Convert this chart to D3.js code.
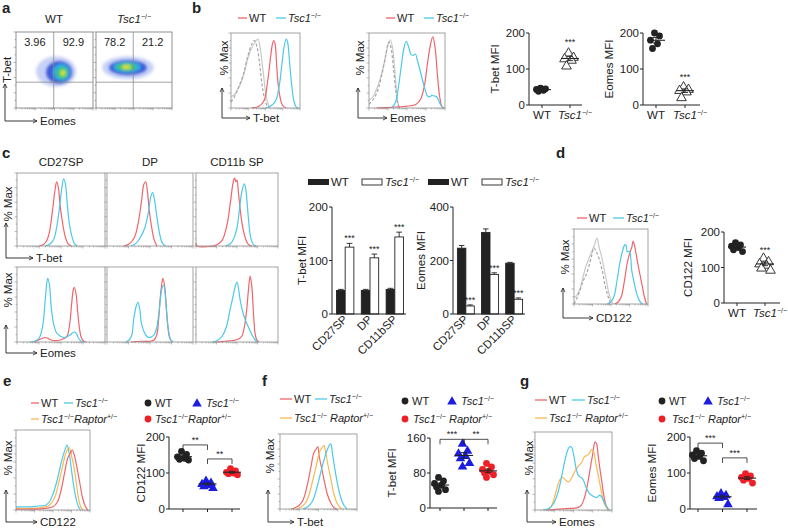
<!DOCTYPE html>
<html>
<head>
<meta charset="utf-8">
<script src="https://cdn.jsdelivr.net/npm/d3@7"></script>
<style>
  body { margin: 0; background: #fff; }
  svg { font-family: "Liberation Sans", Arial, sans-serif; }
</style>
</head>
<body>
<svg id="fig" width="788" height="528"></svg>
<script>
// ---------- data ----------
// a: flow plots, axes in arbitrary 0-100 units
const aGate = [49, 34];
const aQuadWT = ['3.96', '92.9'];
const aQuadTsc = ['78.2', '21.2'];
// density levels: [cx, cy, rx, ry], outermost first
const aBlobWT = [[52, 48, 26, 20], [56, 47, 17, 15], [59, 47, 11, 11], [60, 46, 7, 8], [61, 46, 3.5, 4]];
const aBlobTsc = [[42, 53, 34, 15], [42, 53, 25, 10], [41, 54, 18, 7], [40, 54, 13, 5], [40, 54, 6, 3]];
const densityColors = ['#8fa3ec', '#2f4fd8', '#2bbbe0', '#3cc860', '#e8e23a'];

// b: histograms, [x, %Max]
const bTbetIso = [[0,15],[5,18],[10,25],[15,35],[20,50],[25,68],[30,80],[35,88],[39,92],[43,75],[47,45],[50,22],[53,8],[56,0]];
const bTbetIsoDash = [[0,8],[5,15],[12,30],[18,45],[24,68],[30,85],[34,90],[38,80],[42,55],[46,25],[50,8],[54,0]];
const bTbetWT = [[30,0],[40,2],[48,10],[53,35],[57,65],[60,85],[62,90],[64,85],[66,60],[68,35],[71,15],[75,3],[80,0]];
const bTbetTsc = [[50,0],[58,3],[65,10],[70,30],[74,60],[77,82],[80,92],[82,88],[85,60],[88,30],[91,10],[94,2],[97,0]];
const bEomesIso = [[0,10],[5,15],[10,25],[15,40],[20,60],[24,80],[28,91],[31,80],[34,50],[36,25],[38,8],[40,0]];
const bEomesIsoDash = [[0,5],[6,12],[12,25],[17,45],[22,70],[26,88],[29,80],[32,55],[35,25],[38,5],[40,0]];
const bEomesWT = [[10,0],[30,1],[45,2],[55,3],[62,5],[68,12],[73,30],[77,60],[81,85],[84,95],[87,80],[90,45],[93,15],[96,2],[99,0]];
const bEomesTsc = [[30,0],[35,8],[39,30],[43,60],[46,80],[49,89],[52,82],[55,72],[58,70],[61,72],[64,62],[67,51],[71,35],[74,24],[77,16],[80,15],[83,17],[86,16],[89,15],[92,9],[95,3],[98,0]];
// b: MFI dot plots
const mfiGroups = ['WT', 'Tsc1'];
const bTbetMfiWT = [47, 45, 43, 41, 38];
const bTbetMfiTsc = [146, 134, 130, 126, 110];
const bEomesMfiWT = [200, 192, 180, 170, 157];
const bEomesMfiTsc = [52, 45, 42, 38, 22];

// c: histograms per subset
const cSubsets = ['CD27SP', 'DP', 'CD11b SP'];
const cTbetWT = [
  [[25,0],[30,2],[34,8],[37,20],[40,45],[43,75],[45,88],[47,80],[49,55],[52,30],[55,12],[58,3],[62,0]],
  [[20,0],[26,3],[32,12],[36,30],[40,60],[43,85],[45,88],[47,75],[49,50],[52,25],[55,8],[58,0]],
  [[0,4],[1,0],[20,0],[26,2],[32,8],[38,30],[42,60],[45,85],[47,93],[49,88],[50,90],[52,70],[55,40],[58,20],[61,8],[64,2],[68,0]]
];
const cTbetTsc = [
  [[32,0],[38,3],[42,10],[45,25],[48,50],[51,80],[53,92],[55,85],[57,60],[59,35],[62,15],[65,4],[68,0]],
  [[28,0],[34,4],[39,12],[44,25],[48,45],[51,68],[53,73],[55,65],[58,40],[61,18],[64,5],[68,0]],
  [[36,0],[42,3],[46,10],[50,25],[53,50],[56,75],[59,85],[61,75],[63,50],[65,25],[67,10],[70,2],[73,0]]
];
const cEomesWT = [
  [[20,0],[25,3],[29,5],[32,6],[35,5],[38,3],[42,2],[46,2],[50,3],[54,5],[57,8],[60,25],[62,50],[64,70],[65,73],[67,65],[69,40],[71,18],[73,6],[76,1],[79,0]],
  [[28,0],[40,1],[50,1],[55,3],[58,10],[60,30],[62,60],[64,80],[65,85],[67,75],[69,45],[71,18],[73,5],[76,0]],
  [[25,0],[35,1],[45,2],[52,4],[56,8],[59,20],[62,45],[64,70],[66,88],[68,75],[70,40],[72,12],[74,3],[77,0]]
];
const cEomesTsc = [
  [[15,0],[20,1],[25,5],[29,20],[32,55],[34,80],[35,85],[37,75],[39,45],[42,22],[45,12],[49,8],[53,6],[57,7],[61,10],[64,13],[66,13],[68,10],[70,5],[73,1],[76,0]],
  [[22,0],[26,3],[29,10],[31,30],[34,48],[36,53],[38,45],[40,25],[43,14],[46,8],[49,6],[52,7],[55,10],[58,20],[61,45],[64,72],[66,76],[68,60],[70,30],[72,12],[74,3],[77,0]],
  [[20,0],[26,2],[32,8],[37,20],[41,40],[45,60],[48,75],[50,80],[52,70],[54,55],[57,40],[60,30],[63,22],[66,15],[69,8],[72,3],[75,0]]
];
// c: bar charts
const cBarGroups = ['CD27SP', 'DP', 'CD11bSP'];
const cTbetMfiWT = [44, 44, 46], cTbetErrWT = [2, 2, 2];
const cTbetMfiTsc = [125, 105, 144], cTbetErrTsc = [7, 7, 9];
const cEomesMfiWT = [246, 305, 190], cEomesErrWT = [10, 13, 3];
const cEomesMfiTsc = [30, 148, 55], cEomesErrTsc = [4, 6, 5];

// d
const dIso = [[0,8],[4,12],[8,20],[12,35],[16,50],[20,60],[24,70],[28,80],[31,88],[34,75],[37,65],[40,50],[44,30],[47,15],[50,5],[53,0]];
const dIsoDash = [[0,0],[4,8],[8,18],[12,30],[16,38],[20,50],[24,65],[27,75],[30,70],[34,60],[38,45],[42,25],[46,10],[50,0]];
const dWT = [[55,0],[60,3],[64,10],[68,30],[72,55],[76,70],[78,75],[80,84],[83,72],[86,55],[89,40],[92,25],[95,10],[98,0]];
const dTsc = [[45,0],[50,3],[54,10],[58,30],[62,55],[66,72],[68,78],[70,79],[72,70],[75,70],[78,45],[82,25],[86,10],[90,2],[93,0]];
const dMfiWT = [170, 164, 160, 156, 150, 145];
const dMfiTsc = [128, 118, 112, 108, 100, 94];

// e, f, g
const triGroups = ['WT', 'Tsc1', 'Raptor'];
const eWT = [[0,1],[20,1],[40,2],[50,4],[56,10],[61,25],[66,48],[70,65],[74,72],[76,75],[79,68],[82,55],[86,35],[90,15],[94,4],[97,0]];
const eTsc = [[0,4],[10,4],[20,4],[30,5],[40,6],[45,10],[50,20],[55,35],[60,55],[65,72],[69,81],[72,70],[75,50],[78,30],[81,15],[84,5],[87,0]];
const eRap = [[0,2],[20,2],[35,3],[45,6],[52,15],[58,35],[63,55],[67,70],[70,76],[72,78],[75,68],[79,50],[82,30],[85,12],[88,3],[91,0]];
const eMfiWT = [160, 152, 145, 141, 138, 136];
const eMfiTsc = [80, 74, 71, 68, 65, 60];
const eMfiRap = [112, 106, 102, 100, 98, 95];

const fWT = [[15,0],[20,2],[25,5],[30,12],[35,30],[40,55],[44,75],[47,80],[49,83],[51,70],[54,55],[58,35],[62,18],[66,8],[70,2],[74,0]];
const fTsc = [[30,0],[36,3],[42,10],[47,25],[52,45],[57,65],[61,78],[64,85],[66,87],[68,75],[71,55],[75,32],[79,15],[83,5],[87,0]];
const fRap = [[22,0],[28,3],[33,8],[38,20],[43,40],[48,62],[52,78],[55,82],[57,85],[59,78],[62,60],[66,40],[70,20],[74,8],[78,2],[81,0]];
const fMfiWT = [70, 62, 56, 52, 48, 42, 38];
const fMfiTsc = [148, 132, 126, 120, 115, 104, 96];
const fMfiRap = [102, 94, 88, 84, 80, 76, 70];

const gWT = [[15,0],[30,1],[45,2],[55,3],[60,6],[64,15],[68,32],[72,55],[75,72],[78,87],[80,85],[82,70],[84,55],[87,35],[90,15],[93,4],[96,0]];
const gTsc = [[10,0],[18,2],[24,8],[29,20],[33,35],[37,55],[41,72],[44,80],[47,81],[50,72],[53,55],[56,45],[59,42],[62,40],[66,30],[70,22],[75,18],[80,16],[84,19],[88,14],[92,6],[96,0]];
const gRap = [[15,0],[20,3],[25,15],[29,30],[33,40],[36,42],[40,38],[44,36],[48,42],[52,50],[56,56],[60,60],[64,68],[67,70],[70,72],[73,77],[76,75],[79,60],[82,45],[86,25],[90,8],[95,0]];
const gMfiWT = [162, 155, 150, 146, 140, 134];
const gMfiTsc = [45, 40, 37, 35, 32, 15];
const gMfiRap = [98, 92, 88, 85, 80, 72];

// ---------- styling ----------
const RED = '#f0646b', CYAN = '#4cc9ea', ORANGE = '#f7b953';
const ISO = '#c9c9c9', ISO_D = '#a6a6a6';
const BLUE = '#1c1ce0', DOTRED = '#ee2027';
const INK = '#222';

const svg = d3.select('#fig');
const defs = svg.append('defs');
defs.append('marker').attr('id', 'arr').attr('viewBox', '0 0 8 8')
  .attr('refX', 7).attr('refY', 4).attr('markerWidth', 6).attr('markerHeight', 6)
  .attr('orient', 'auto')
  .append('path').attr('d', 'M1,1 L7,4 L1,7').attr('fill', 'none').attr('stroke', INK).attr('stroke-width', 1.2);
defs.append('filter').attr('id', 'blur').attr('x', '-50%').attr('y', '-50%').attr('width', '200%').attr('height', '200%')
  .append('feGaussianBlur').attr('stdDeviation', 1.8);

// ---------- helpers ----------
function text(x, y, s, size = 11, anchor = 'start', weight = 'normal') {
  return svg.append('text').attr('x', x).attr('y', y).attr('font-size', size)
    .attr('text-anchor', anchor).attr('font-weight', weight).attr('fill', INK).text(s);
}

function geno(x, y, opts = {}) {
  const t = svg.append('text').attr('x', x).attr('y', y).attr('font-size', opts.size || 11)
    .attr('fill', INK).attr('text-anchor', opts.anchor || 'start');
  t.append('tspan').attr('font-style', 'italic').text('Tsc1');
  t.append('tspan').attr('font-size', 7).attr('dy', -4).text('−/−');
  if (opts.raptor) {
    t.append('tspan').attr('dy', 4).attr('font-style', 'italic').text(opts.gap ? ' Raptor' : 'Raptor');
    t.append('tspan').attr('font-size', 7).attr('dy', -4).text('+/−');
  }
  return t;
}

function vlabel(x, cy, s, size = 11) {
  svg.append('text').attr('transform', `translate(${x},${cy}) rotate(-90)`)
    .attr('dy', '0.35em').attr('text-anchor', 'middle').attr('font-size', size).attr('fill', INK).text(s);
}

function flowAxes(x0, y0, yTip, xTip, yLab, yLabCy, xLab) {
  svg.append('path').attr('d', `M${x0},${y0} V${yTip}`).attr('stroke', INK).attr('stroke-width', 0.9)
    .attr('fill', 'none').attr('marker-end', 'url(#arr)');
  svg.append('path').attr('d', `M${x0},${y0} H${xTip}`).attr('stroke', INK).attr('stroke-width', 0.9)
    .attr('fill', 'none').attr('marker-end', 'url(#arr)');
  vlabel(x0 + 2, yLabCy, yLab, 11.5);
  text(xTip + 3, y0 + 4, xLab, 11.5);
}

function boxTicks(g, b) {
  const x = d3.scaleLinear().domain([0, 100]).range([b.x, b.x + b.w]);
  const y = d3.scaleLinear().domain([0, 100]).range([b.y + b.h, b.y]);
  const tk = g.append('g').attr('stroke', '#8a8a8a').attr('stroke-width', 0.6);
  d3.range(0, 101, 10).forEach((v, i) => {
    const len = i % 2 === 0 ? 2.5 : 1.4;
    tk.append('line').attr('x1', b.x - len).attr('x2', b.x).attr('y1', y(v)).attr('y2', y(v));
  });
  [0, 25, 50, 75, 100].forEach(v => {
    tk.append('line').attr('x1', x(v)).attr('x2', x(v)).attr('y1', b.y + b.h).attr('y2', b.y + b.h + 2.5);
  });
  [0, 25, 50, 75].forEach(v => {
    [0.3, 0.48, 0.6, 0.7, 0.78, 0.85, 0.9, 0.95].forEach(f => {
      tk.append('line').attr('x1', x(v + 25 * f)).attr('x2', x(v + 25 * f))
        .attr('y1', b.y + b.h).attr('y2', b.y + b.h + 1.4);
    });
  });
  return { x, y };
}

function histBox(b, curves) {
  const g = svg.append('g');
  const { x, y } = boxTicks(g, b);
  const line = d3.line().x(d => x(d[0])).y(d => Math.min(y(0), y(d[1]))).curve(d3.curveCatmullRom.alpha(0.5));
  curves.forEach(c => {
    g.append('path').attr('d', line(c.data)).attr('fill', 'none')
      .attr('stroke', c.color).attr('stroke-width', 1.2)
      .attr('stroke-dasharray', c.dash || null);
  });
  g.append('rect').attr('x', b.x).attr('y', b.y).attr('width', b.w).attr('height', b.h)
    .attr('fill', 'none').attr('stroke', '#8c8c8c').attr('stroke-width', 0.8);
}

function lineLegend(y, items) {
  items.forEach(it => {
    svg.append('line').attr('x1', it.x).attr('x2', it.x + it.len).attr('y1', y).attr('y2', y)
      .attr('stroke', it.color).attr('stroke-width', 1.3);
    if (it.geno) geno(it.x + it.len + 2, y + 4, { raptor: it.raptor, gap: it.gap });
    else text(it.x + it.len + 2, y + 4, it.label);
  });
}

function flowPlot(b, blob, gate, quads, clipId) {
  const g = svg.append('g');
  const { x, y } = boxTicks(g, b);
  defs.append('clipPath').attr('id', clipId).append('rect')
    .attr('x', b.x).attr('y', b.y).attr('width', b.w).attr('height', b.h);
  const dens = g.append('g').attr('clip-path', `url(#${clipId})`).append('g').attr('filter', 'url(#blur)');
  blob.forEach((e, i) => {
    dens.append('ellipse').attr('cx', x(e[0])).attr('cy', y(e[1]))
      .attr('rx', x(e[2]) - x(0)).attr('ry', y(0) - y(e[3]))
      .attr('fill', densityColors[i]).attr('opacity', i === 0 ? 0.5 : 0.9);
  });
  g.append('line').attr('x1', x(gate[0])).attr('x2', x(gate[0])).attr('y1', b.y).attr('y2', b.y + b.h)
    .attr('stroke', '#8a8a8a').attr('stroke-width', 0.8);
  g.append('line').attr('x1', b.x).attr('x2', b.x + b.w).attr('y1', y(gate[1])).attr('y2', y(gate[1]))
    .attr('stroke', '#8a8a8a').attr('stroke-width', 0.8);
  g.append('rect').attr('x', b.x).attr('y', b.y).attr('width', b.w).attr('height', b.h)
    .attr('fill', 'none').attr('stroke', '#777').attr('stroke-width', 0.8);
  text(x(gate[0] / 2), b.y + 14, quads[0], 11, 'middle');
  text(x((gate[0] + 100) / 2), b.y + 14, quads[1], 11, 'middle');
}

function symbol(g, type, cx, cy, fill, stroke) {
  if (type === 'circle') {
    g.append('circle').attr('cx', cx).attr('cy', cy).attr('r', 3.4).attr('fill', fill).attr('stroke', stroke || 'none');
  } else {
    g.append('path').attr('d', d3.symbol(d3.symbolTriangle, 40)())
      .attr('transform', `translate(${cx},${cy + 0.8})`)
      .attr('fill', fill).attr('stroke', stroke || 'none').attr('stroke-width', 0.9);
  }
}

function dotPlot(o) {
  const g = svg.append('g');
  const y = d3.scaleLinear().domain([0, o.max]).range([o.y0, o.y1]);
  const x = d3.scalePoint().domain(o.groups).range(o.xr);
  // axes
  g.append('line').attr('x1', o.ax).attr('x2', o.ax).attr('y1', o.y0).attr('y2', o.y1).attr('stroke', INK).attr('stroke-width', 1);
  g.append('line').attr('x1', o.ax).attr('x2', o.xEnd).attr('y1', o.y0).attr('y2', o.y0).attr('stroke', INK).attr('stroke-width', 1);
  o.ticks.forEach(t => {
    g.append('line').attr('x1', o.ax - 3).attr('x2', o.ax).attr('y1', y(t)).attr('y2', y(t)).attr('stroke', INK);
    text(o.ax - 4, y(t) + 4, String(t), 11.5, 'end');
  });
  o.groups.forEach(gr => {
    g.append('line').attr('x1', x(gr)).attr('x2', x(gr)).attr('y1', o.y0).attr('y2', o.y0 + 3).attr('stroke', INK);
  });
  o.series.forEach((s, si) => {
    const cx = x(o.groups[si]);
    s.vals.forEach((v, i) => {
      const dx = (i % 2 ? 1 : -1) * (1.5 + (i % 3) * 2);
      symbol(g, s.shape, cx + dx, y(v), s.fill, s.stroke);
    });
    const m = d3.mean(s.vals);
    const se = d3.deviation(s.vals) / Math.sqrt(s.vals.length);
    g.append('line').attr('x1', cx - 9).attr('x2', cx + 9).attr('y1', y(m)).attr('y2', y(m)).attr('stroke', INK).attr('stroke-width', 1.1);
    g.append('line').attr('x1', cx).attr('x2', cx).attr('y1', y(m - se)).attr('y2', y(m + se)).attr('stroke', INK).attr('stroke-width', 0.9);
    [m - se, m + se].forEach(v => g.append('line').attr('x1', cx - 3).attr('x2', cx + 3).attr('y1', y(v)).attr('y2', y(v)).attr('stroke', INK).attr('stroke-width', 0.9));
  });
  if (o.stars) o.stars.forEach(s => text(x(s.group), y(s.at), '***', 9, 'middle'));
  if (o.brackets) o.brackets.forEach(b => {
    const xa = x(b.from), xb = x(b.to), yb = y(b.at);
    g.append('path').attr('d', `M${xa},${yb + 5} V${yb} H${xb} V${yb + 5}`).attr('fill', 'none').attr('stroke', INK).attr('stroke-width', 0.8);
    text((xa + xb) / 2, yb - 2, b.label, 9, 'middle');
  });
  vlabel(o.labX, (o.y0 + o.y1) / 2, o.label, 11.5);
  if (o.xLabels) {
    text(x('WT'), o.y0 + 14, 'WT', 11.5, 'middle');
    geno(x('Tsc1') - 12, o.y0 + 14, { size: 11.5 });
  }
  return { x, y };
}

function barChart(o) {
  const g = svg.append('g');
  const y = d3.scaleLinear().domain([0, o.max]).range([o.y0, o.y1]);
  const x0 = d3.scaleBand().domain(cBarGroups).range([o.ax + 2, o.xEnd]).paddingInner(0.3).paddingOuter(0.1);
  const x1 = d3.scaleBand().domain(['WT', 'Tsc']).range([0, x0.bandwidth()]);
  cBarGroups.forEach((gr, i) => {
    [['WT', o.wt[i], o.wtErr[i], INK], ['Tsc', o.tsc[i], o.tscErr[i], '#fff']].forEach(([k, v, e, fill]) => {
      const bx = x0(gr) + x1(k), bw = x1.bandwidth();
      g.append('line').attr('x1', bx + bw / 2).attr('x2', bx + bw / 2).attr('y1', y(v)).attr('y2', y(v + e)).attr('stroke', INK).attr('stroke-width', 0.9);
      g.append('line').attr('x1', bx + 1.5).attr('x2', bx + bw - 1.5).attr('y1', y(v + e)).attr('y2', y(v + e)).attr('stroke', INK).attr('stroke-width', 0.9);
      g.append('rect').attr('x', bx).attr('y', y(v)).attr('width', bw).attr('height', y(0) - y(v))
        .attr('fill', fill).attr('stroke', INK).attr('stroke-width', 0.9);
      if (k === 'Tsc') text(bx + bw / 2, y(v + e) - 2, '***', 9, 'middle');
    });
    svg.append('text').attr('transform', `translate(${x0(gr) + x0.bandwidth() / 2 + 3},${o.y0 + 6}) rotate(-45)`)
      .attr('text-anchor', 'end').attr('font-size', 11.5).attr('fill', INK).text(gr);
  });
  g.append('line').attr('x1', o.ax).attr('x2', o.ax).attr('y1', o.y0).attr('y2', o.y1).attr('stroke', INK).attr('stroke-width', 1);
  g.append('line').attr('x1', o.ax).attr('x2', o.xEnd).attr('y1', o.y0).attr('y2', o.y0).attr('stroke', INK).attr('stroke-width', 1);
  o.ticks.forEach(t => {
    g.append('line').attr('x1', o.ax - 3).attr('x2', o.ax).attr('y1', y(t)).attr('y2', y(t)).attr('stroke', INK);
    text(o.ax - 4, y(t) + 4, String(t), 11.5, 'end');
  });
  vlabel(o.labX, (o.y0 + o.y1) / 2, o.label, 11.5);
}

function barLegend(x, y) {
  svg.append('rect').attr('x', x).attr('y', y - 3).attr('width', 21).attr('height', 6).attr('fill', INK);
  text(x + 23, y + 4, 'WT', 11.5);
  svg.append('rect').attr('x', x + 54).attr('y', y - 3).attr('width', 20).attr('height', 6).attr('fill', '#fff').attr('stroke', INK).attr('stroke-width', 0.9);
  geno(x + 77, y + 4, { size: 11.5 });
}

function dotLegend(x, y, x2) {
  symbol(svg, 'circle', x, y, INK);
  text(x + 7, y + 4, 'WT');
  symbol(svg, 'tri', x2, y, BLUE);
  geno(x2 + 9, y + 4);
}

// ---------- panel letters ----------
text(2, 13, 'a', 15, 'start', 'bold');
text(192, 13, 'b', 15, 'start', 'bold');
text(2, 158, 'c', 15, 'start', 'bold');
text(556, 158, 'd', 15, 'start', 'bold');
text(3, 386, 'e', 15, 'start', 'bold');
text(262, 386, 'f', 15, 'start', 'bold');
text(520, 386, 'g', 15, 'start', 'bold');

// ---------- a ----------
text(54, 23, 'WT', 11.5, 'middle');
geno(134, 23, { anchor: 'middle', size: 11.5 });
flowPlot({ x: 16, y: 32, w: 77, h: 76 }, aBlobWT, aGate, aQuadWT, 'clipA1');
flowPlot({ x: 96, y: 32, w: 76, h: 76 }, aBlobTsc, aGate, aQuadTsc, 'clipA2');
flowAxes(5, 121, 84, 37, 'T-bet', 70, 'Eomes');

// ---------- b ----------
lineLegend(18, [{ x: 238, len: 9, color: RED, label: 'WT' }, { x: 276, len: 10, color: CYAN, geno: true }]);
lineLegend(18, [{ x: 386, len: 9, color: RED, label: 'WT' }, { x: 424, len: 10, color: CYAN, geno: true }]);
histBox({ x: 231, y: 33, w: 69, h: 75 }, [
  { data: bTbetIso, color: ISO }, { data: bTbetIsoDash, color: ISO_D, dash: '3,2' },
  { data: bTbetWT, color: RED }, { data: bTbetTsc, color: CYAN }]);
histBox({ x: 369, y: 33, w: 76, h: 75 }, [
  { data: bEomesIso, color: ISO }, { data: bEomesIsoDash, color: ISO_D, dash: '3,2' },
  { data: bEomesWT, color: RED }, { data: bEomesTsc, color: CYAN }]);
flowAxes(222, 118, 88, 250, '% Max', 58, 'T-bet');
flowAxes(358, 118, 88, 387, '% Max', 58, 'Eomes');

dotPlot({ ax: 529, xEnd: 582, y0: 105, y1: 33, max: 200, ticks: [0, 100, 200], groups: mfiGroups, xr: [542, 570],
  series: [{ vals: bTbetMfiWT, shape: 'circle', fill: INK }, { vals: bTbetMfiTsc, shape: 'tri', fill: '#fff', stroke: INK }],
  stars: [{ group: 'Tsc1', at: 168 }], label: 'T-bet MFI', labX: 495, xLabels: true });
dotPlot({ ax: 643, xEnd: 700, y0: 105, y1: 33, max: 200, ticks: [0, 100, 200], groups: mfiGroups, xr: [656, 685],
  series: [{ vals: bEomesMfiWT, shape: 'circle', fill: INK }, { vals: bEomesMfiTsc, shape: 'tri', fill: '#fff', stroke: INK }],
  stars: [{ group: 'Tsc1', at: 70 }], label: 'Eomes MFI', labX: 609, xLabels: true });

// ---------- c ----------
const cCols = [[17, 88], [107, 86], [196, 82]];
cSubsets.forEach((s, i) => {
  text(cCols[i][0] + cCols[i][1] / 2, 166, s, 11.5, 'middle');
  histBox({ x: cCols[i][0], y: 173, w: cCols[i][1], h: 73 }, [
    { data: cTbetWT[i], color: RED }, { data: cTbetTsc[i], color: CYAN }]);
  histBox({ x: cCols[i][0], y: 267, w: cCols[i][1], h: 75 }, [
    { data: cEomesWT[i], color: RED }, { data: cEomesTsc[i], color: CYAN }]);
});
flowAxes(6, 258, 223, 33, '% Max', 204, 'T-bet');
flowAxes(6, 353, 325, 37, '% Max', 290, 'Eomes');

barLegend(308, 182);
barLegend(428, 182);
barChart({ ax: 332, xEnd: 406, y0: 314, y1: 207, max: 200, ticks: [0, 100, 200],
  wt: cTbetMfiWT, wtErr: cTbetErrWT, tsc: cTbetMfiTsc, tscErr: cTbetErrTsc, label: 'T-bet MFI', labX: 302 });
barChart({ ax: 453, xEnd: 525, y0: 314, y1: 207, max: 400, ticks: [0, 200, 400],
  wt: cEomesMfiWT, wtErr: cEomesErrWT, tsc: cEomesMfiTsc, tscErr: cEomesErrTsc, label: 'Eomes MFI', labX: 421 });

// ---------- d ----------
lineLegend(218, [{ x: 577, len: 10, color: RED, label: 'WT' }, { x: 613, len: 11, color: CYAN, geno: true }]);
histBox({ x: 574, y: 229, w: 74, h: 75 }, [
  { data: dIso, color: ISO }, { data: dIsoDash, color: ISO_D, dash: '3,2' },
  { data: dWT, color: RED }, { data: dTsc, color: CYAN }]);
flowAxes(563, 318, 288, 593, '% Max', 257, 'CD122');
dotPlot({ ax: 724, xEnd: 780, y0: 303, y1: 232, max: 200, ticks: [0, 100, 200], groups: mfiGroups, xr: [737, 765],
  series: [{ vals: dMfiWT, shape: 'circle', fill: INK }, { vals: dMfiTsc, shape: 'tri', fill: '#fff', stroke: INK }],
  stars: [{ group: 'Tsc1', at: 142 }], label: 'CD122 MFI', labX: 688, xLabels: true });

// ---------- e ----------
lineLegend(403, [{ x: 31, len: 8, color: RED, label: 'WT' }, { x: 64, len: 9, color: CYAN, geno: true }]);
lineLegend(419, [{ x: 31, len: 8, color: ORANGE, geno: true, raptor: true }]);
histBox({ x: 16, y: 430, w: 74, h: 80 }, [
  { data: eTsc, color: CYAN }, { data: eRap, color: ORANGE }, { data: eWT, color: RED }]);
flowAxes(6, 522, 490, 37, '% Max', 458, 'CD122');
dotLegend(148, 403, 197);
symbol(svg, 'circle', 148, 419, DOTRED);
geno(155, 423, { raptor: true });
dotPlot({ ax: 169, xEnd: 240, y0: 509, y1: 437, max: 200, ticks: [0, 100, 200], groups: triGroups, xr: [183, 232],
  series: [{ vals: eMfiWT, shape: 'circle', fill: INK }, { vals: eMfiTsc, shape: 'tri', fill: BLUE }, { vals: eMfiRap, shape: 'circle', fill: DOTRED }],
  brackets: [{ from: 'WT', to: 'Tsc1', at: 178, label: '**' }, { from: 'Tsc1', to: 'Raptor', at: 139, label: '**' }],
  label: 'CD122 MFI', labX: 141 });

// ---------- f ----------
lineLegend(399, [{ x: 280, len: 12, color: RED, label: 'WT' }, { x: 315, len: 12, color: CYAN, geno: true }]);
lineLegend(418, [{ x: 280, len: 12, color: ORANGE, geno: true, raptor: true, gap: true }]);
histBox({ x: 280, y: 434, w: 77, h: 75 }, [
  { data: fWT, color: RED }, { data: fRap, color: ORANGE }, { data: fTsc, color: CYAN }]);
flowAxes(268, 522, 490, 294, '% Max', 456, 'T-bet');
dotLegend(405, 401, 452);
symbol(svg, 'circle', 405, 419, DOTRED);
geno(413, 423, { raptor: true, gap: true });
dotPlot({ ax: 430, xEnd: 497, y0: 508, y1: 438, max: 160, ticks: [0, 80, 160], groups: triGroups, xr: [440, 488],
  series: [{ vals: fMfiWT, shape: 'circle', fill: INK }, { vals: fMfiTsc, shape: 'tri', fill: BLUE }, { vals: fMfiRap, shape: 'circle', fill: DOTRED }],
  brackets: [{ from: 'WT', to: 'Tsc1', at: 157, label: '***' }, { from: 'Tsc1', to: 'Raptor', at: 157, label: '**' }],
  label: 'T-bet MFI', labX: 392 });

// ---------- g ----------
lineLegend(400, [{ x: 535, len: 12, color: RED, label: 'WT' }, { x: 572, len: 13, color: CYAN, geno: true }]);
lineLegend(418, [{ x: 535, len: 12, color: ORANGE, geno: true, raptor: true, gap: true }]);
histBox({ x: 535, y: 432, w: 77, h: 78 }, [
  { data: gWT, color: RED }, { data: gRap, color: ORANGE }, { data: gTsc, color: CYAN }]);
flowAxes(527, 522, 490, 556, '% Max', 458, 'Eomes');
dotLegend(662, 401, 708);
symbol(svg, 'circle', 662, 419, DOTRED);
geno(672, 423, { raptor: true, gap: true });
dotPlot({ ax: 690, xEnd: 757, y0: 509, y1: 437, max: 200, ticks: [0, 100, 200], groups: triGroups, xr: [698, 747],
  series: [{ vals: gMfiWT, shape: 'circle', fill: INK }, { vals: gMfiTsc, shape: 'tri', fill: BLUE }, { vals: gMfiRap, shape: 'circle', fill: DOTRED }],
  brackets: [{ from: 'WT', to: 'Tsc1', at: 183, label: '***' }, { from: 'Tsc1', to: 'Raptor', at: 142, label: '***' }],
  label: 'Eomes MFI', labX: 652 });
</script>
</body>
</html>
